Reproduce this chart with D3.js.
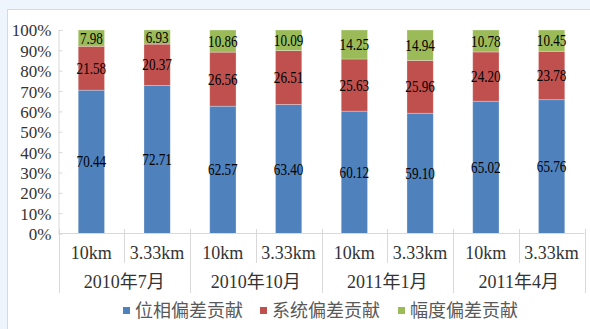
<!DOCTYPE html>
<html><head><meta charset="utf-8">
<script src="https://cdn.jsdelivr.net/npm/d3@7"></script>
<style>body{margin:0;background:#eef5fc;} svg{display:block;}</style>
</head><body>
<svg id="c" width="590" height="329"></svg>
<script>
const groups = ["2010年7月","2010年10月","2011年1月","2011年4月"];
const resolutions = ["10km","3.33km"];
const phase = [70.44,72.71,62.57,63.40,60.12,59.10,65.02,65.76];
const system = [21.58,20.37,26.56,26.51,25.63,25.96,24.20,23.78];
const amplitude = [7.98,6.93,10.86,10.09,14.25,14.94,10.78,10.45];
const seriesNames = ["位相偏差贡献","系统偏差贡献","幅度偏差贡献"];
const colors = ["#4f81bd","#c0504d","#9bbb59"];
const yTicks = [0,10,20,30,40,50,60,70,80,90,100];

const svg = d3.select("#c");
svg.append("rect").attr("x",7.5).attr("y",9.5).attr("width",590).attr("height",330)
  .attr("fill","#fff").attr("stroke","#d9d9d9");

const cats = [];
groups.forEach((g,gi)=>resolutions.forEach((r,ri)=>cats.push({g,r,i:gi*2+ri})));
const rows = cats.map((c,i)=>({key:i, phase:phase[i], system:system[i], amplitude:amplitude[i]}));

const x = d3.scaleBand().domain(d3.range(cats.length)).range([58.5,584.5]).paddingInner(0.6).paddingOuter(0.3);
const y = d3.scaleLinear().domain([0,100]).range([233.5,30]);
const step = x.step();
const x0 = 58.5;

const stack = d3.stack().keys(["phase","system","amplitude"]);
const layers = stack(rows);
const serif = "'Liberation Serif','Times New Roman',serif";

// y axis
const ya = svg.append("g").attr("transform","translate(58.5,0)")
  .call(d3.axisLeft(y).tickValues(yTicks).tickFormat(d=>d+"%").tickSizeInner(-4).tickSizeOuter(-4).tickPadding(7));
ya.select(".domain").attr("stroke","#d9d9d9");
ya.selectAll(".tick line").attr("stroke","#d9d9d9");
ya.selectAll(".tick text").attr("font-family",serif).attr("font-size",17).attr("fill","#333").attr("dy","0.35em");

// bars
layers.forEach((layer,li)=>{
  svg.append("g").selectAll("rect").data(layer).join("rect")
    .attr("x",(d,i)=>x(i)).attr("width",x.bandwidth())
    .attr("y",d=>y(d[1])).attr("height",d=>y(d[0])-y(d[1]))
    .attr("fill",colors[li]).attr("stroke","#ffffff").attr("stroke-opacity",0.35).attr("stroke-width",0.8);
  svg.append("g").selectAll("text").data(layer).join("text")
    .attr("x",(d,i)=>x(i)+x.bandwidth()/2).attr("y",d=>(y(d[0])+y(d[1]))/2)
    .attr("dy","0.35em").attr("text-anchor","middle")
    .attr("font-family",serif).attr("font-size",16).attr("fill","#000")
    .text(d=>(d[1]-d[0]).toFixed(2))
    .each(function(){
      const L = this.getComputedTextLength();
      d3.select(this).attr("textLength",L*0.82).attr("lengthAdjust","spacingAndGlyphs");
    });
});

// x axis
const ax = svg.append("g");
ax.append("line").attr("x1",x0).attr("x2",584.5).attr("y1",233.5).attr("y2",233.5).attr("stroke","#d9d9d9");
for(let k=0;k<=cats.length;k++){
  const xx = Math.round(x0+k*step)+0.5;
  const isGroup = k%2===0;
  ax.append("line").attr("x1",xx).attr("x2",xx).attr("y1",229).attr("y2",isGroup?293:263).attr("stroke","#d9d9d9");
}
ax.selectAll("text.res").data(cats).join("text").attr("class","res")
  .attr("x",d=>x(d.i)+x.bandwidth()/2).attr("y",253).attr("dy","0.35em").attr("text-anchor","middle")
  .attr("font-family",serif).attr("font-size",18).attr("fill","#333").text(d=>d.r);
ax.selectAll("text.grp").data(groups).join("text").attr("class","grp")
  .attr("x",(d,i)=>x0+(i*2+1)*step).attr("y",282).attr("dy","0.35em").attr("text-anchor","middle")
  .attr("font-family",serif+",'Noto Sans CJK SC'").attr("font-size",18).attr("fill","#333").text(d=>d);

// legend
const legX = [123,260,398];
const lg = svg.append("g");
seriesNames.forEach((n,i)=>{
  lg.append("rect").attr("x",legX[i]).attr("y",307).attr("width",7).attr("height",7).attr("fill",colors[i]);
  lg.append("text").attr("x",legX[i]+12).attr("y",311).attr("dy","0.35em")
    .attr("font-family","'Noto Sans CJK SC',sans-serif").attr("font-size",18).attr("fill","#595959").text(n);
});
</script>
</body></html>
